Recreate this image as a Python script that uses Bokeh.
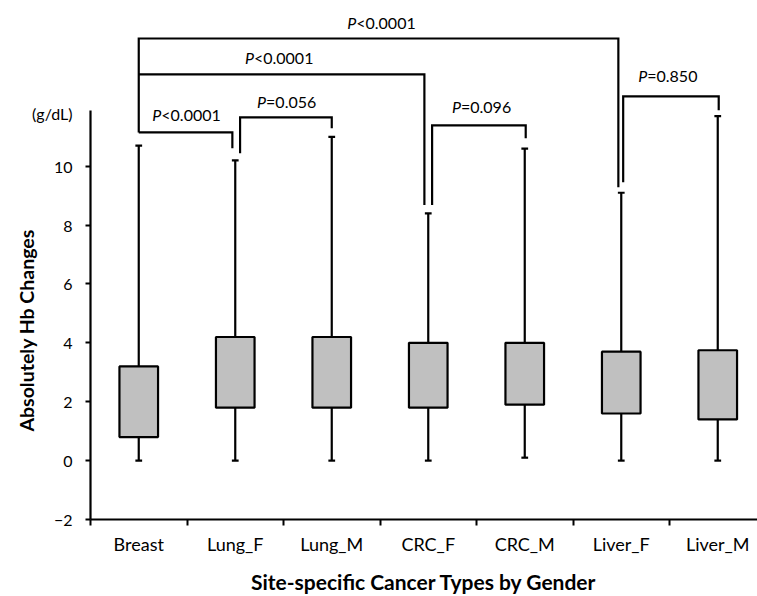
from bokeh.plotting import figure
from bokeh.models import Range1d, FixedTicker, Title
from bokeh.core.properties import value
from bokeh.embed import file_html
from bokeh.resources import INLINE

# ---------------- data ----------------
categories = ["Breast", "Lung_F", "Lung_M", "CRC_F", "CRC_M", "Liver_F", "Liver_M"]
whisker_low = [0.0, 0.0, 0.0, 0.0, 0.1, 0.0, 0.0]
q1 = [0.8, 1.8, 1.8, 1.8, 1.9, 1.6, 1.4]
q3 = [3.2, 4.2, 4.2, 4.0, 4.0, 3.7, 3.75]
whisker_high = [10.7, 10.2, 11.0, 8.4, 10.6, 9.1, 11.7]
y_ticks = [-2, 0, 2, 4, 6, 8, 10]
unit_label = "(g/dL)"

comp_a = ["Breast", "Breast", "Breast", "Lung_F", "CRC_F", "Liver_F"]
comp_b = ["Liver_F", "CRC_F", "Lung_F", "Lung_M", "CRC_M", "Liver_M"]
p_values = ["<0.0001", "<0.0001", "<0.0001", "=0.056", "=0.096", "=0.850"]

# ---------------- layout of significance brackets ----------------
bracket_y = [14.34, 13.12, 11.15, 11.66, 11.39, 12.37]
left_dx = [0.0, 0.0, 0.0, 0.05, 0.04, 0.02]
right_dx = [-0.03, -0.04, -0.03, 0.0, 0.01, 0.01]
left_bottom = [11.15, None, None, 10.44, 8.68, 9.46]
right_bottom = [9.29, 8.68, 10.61, 11.29, 10.95, 11.9]
label_x = [3.5, 2.44, 1.48, 2.52, 4.54, 6.47]
label_y = [14.88, 13.71, 11.75, 12.2, 12.02, 13.08]
unit_label_y = 11.8

FONT = "Lato"
PX_PER_UNIT = 96.5
FS_P = 16
FS_XTICK = 18
FS_YTICK = 16

pos = {c: i + 1 for i, c in enumerate(categories)}
xs = [pos[c] for c in categories]

p = figure(width=757, height=596, output_backend="svg", toolbar_location=None,
           x_range=Range1d(0.5, 0.5 + 667 / PX_PER_UNIT), y_range=Range1d(-2, 15.63),
           min_border_left=90, min_border_right=0, min_border_top=0, min_border_bottom=76)
p.outline_line_color = None
p.xgrid.visible = False
p.ygrid.visible = False
p.background_fill_color = "white"
p.border_fill_color = "white"

LW = 2.2
# boxes
p.quad(left=[x - 0.2 for x in xs], right=[x + 0.2 for x in xs], bottom=q1, top=q3,
       fill_color="#c0c0c0", line_color="black", line_width=LW)
# whiskers
p.segment(x0=xs, y0=q3, x1=xs, y1=whisker_high, line_color="black", line_width=LW)
p.segment(x0=xs, y0=whisker_low, x1=xs, y1=q1, line_color="black", line_width=LW)
# caps
p.segment(x0=[x - 0.035 for x in xs], y0=whisker_high, x1=[x + 0.035 for x in xs], y1=whisker_high,
          line_color="black", line_width=LW)
p.segment(x0=[x - 0.035 for x in xs], y0=whisker_low, x1=[x + 0.035 for x in xs], y1=whisker_low,
          line_color="black", line_width=LW)

# brackets
bx, by = [], []
for a, b, yb, ldx, rdx, lb, rb in zip(comp_a, comp_b, bracket_y, left_dx, right_dx, left_bottom, right_bottom):
    xl = pos[a] + ldx
    xr = pos[b] + rdx
    lb = yb if lb is None else lb
    bx.append([xl, xl, xr, xr])
    by.append([lb, yb, yb, rb])
p.multi_line(xs=bx, ys=by, line_color="black", line_width=LW, line_join="miter")


def em_width(s):
    w = 0.0
    for ch in s:
        w += 0.27 if ch == "." else 0.55
    return w


p_w = 0.6 * FS_P / PX_PER_UNIT
sx = []
for lab, lx in zip(p_values, label_x):
    total = p_w + em_width(lab) * FS_P / PX_PER_UNIT
    sx.append(lx - total / 2 + p_w)
p.text(x=sx, y=label_y, text=["P"] * len(sx), text_align="right", text_baseline="middle",
       text_font=value(FONT), text_font_style="italic", text_font_size=f"{FS_P}px", text_color="black")
p.text(x=sx, y=label_y, text=p_values, text_align="left", text_baseline="middle",
       text_font=value(FONT), text_font_size=f"{FS_P}px", text_color="black")

# x axis
xa = p.xaxis[0]
xa.ticker = FixedTicker(ticks=xs, minor_ticks=[x - 0.5 for x in xs])
xa.major_label_overrides = {x: c for x, c in zip(xs, categories)}
xa.major_tick_out = 0
xa.major_tick_in = 0
xa.minor_tick_out = 6
xa.minor_tick_in = 0
xa.minor_tick_line_width = 2
xa.minor_tick_line_color = "black"
xa.axis_line_width = LW
xa.axis_line_color = "black"
xa.major_label_text_font = FONT
xa.major_label_text_font_size = f"{FS_XTICK}px"
xa.major_label_text_color = "black"
xa.major_label_standoff = 7
xa.axis_label = "Site-specific Cancer Types by Gender"
xa.axis_label_text_font = FONT
xa.axis_label_text_font_size = "21px"
xa.axis_label_text_font_style = "bold"
xa.axis_label_text_color = "black"
xa.axis_label_standoff = 11

# y axis: tick marks drawn as minor ticks so that the unit label can sit at the top
ya = p.yaxis[0]
ya.ticker = FixedTicker(ticks=y_ticks + [unit_label_y], minor_ticks=y_ticks)
ya.major_label_overrides = {unit_label_y: unit_label}
ya.bounds = (-2, 11.9)
ya.major_tick_out = 0
ya.major_tick_in = 0
ya.minor_tick_out = 5
ya.minor_tick_in = 0
ya.minor_tick_line_width = 2
ya.minor_tick_line_color = "black"
ya.axis_line_width = LW
ya.axis_line_color = "black"
ya.major_label_text_font = FONT
ya.major_label_text_font_size = f"{FS_YTICK}px"
ya.major_label_text_color = "black"
ya.major_label_standoff = 13
ya.axis_label = None

# y axis title, placed along the axis as in the original
p.add_layout(Title(text="Absolutely Hb Changes", align="left", offset=88, standoff=-16,
                   text_font=FONT, text_font_size="19.5px", text_font_style="bold",
                   text_color="black"), "left")

open("out.html", "w").write(file_html(p, INLINE))
